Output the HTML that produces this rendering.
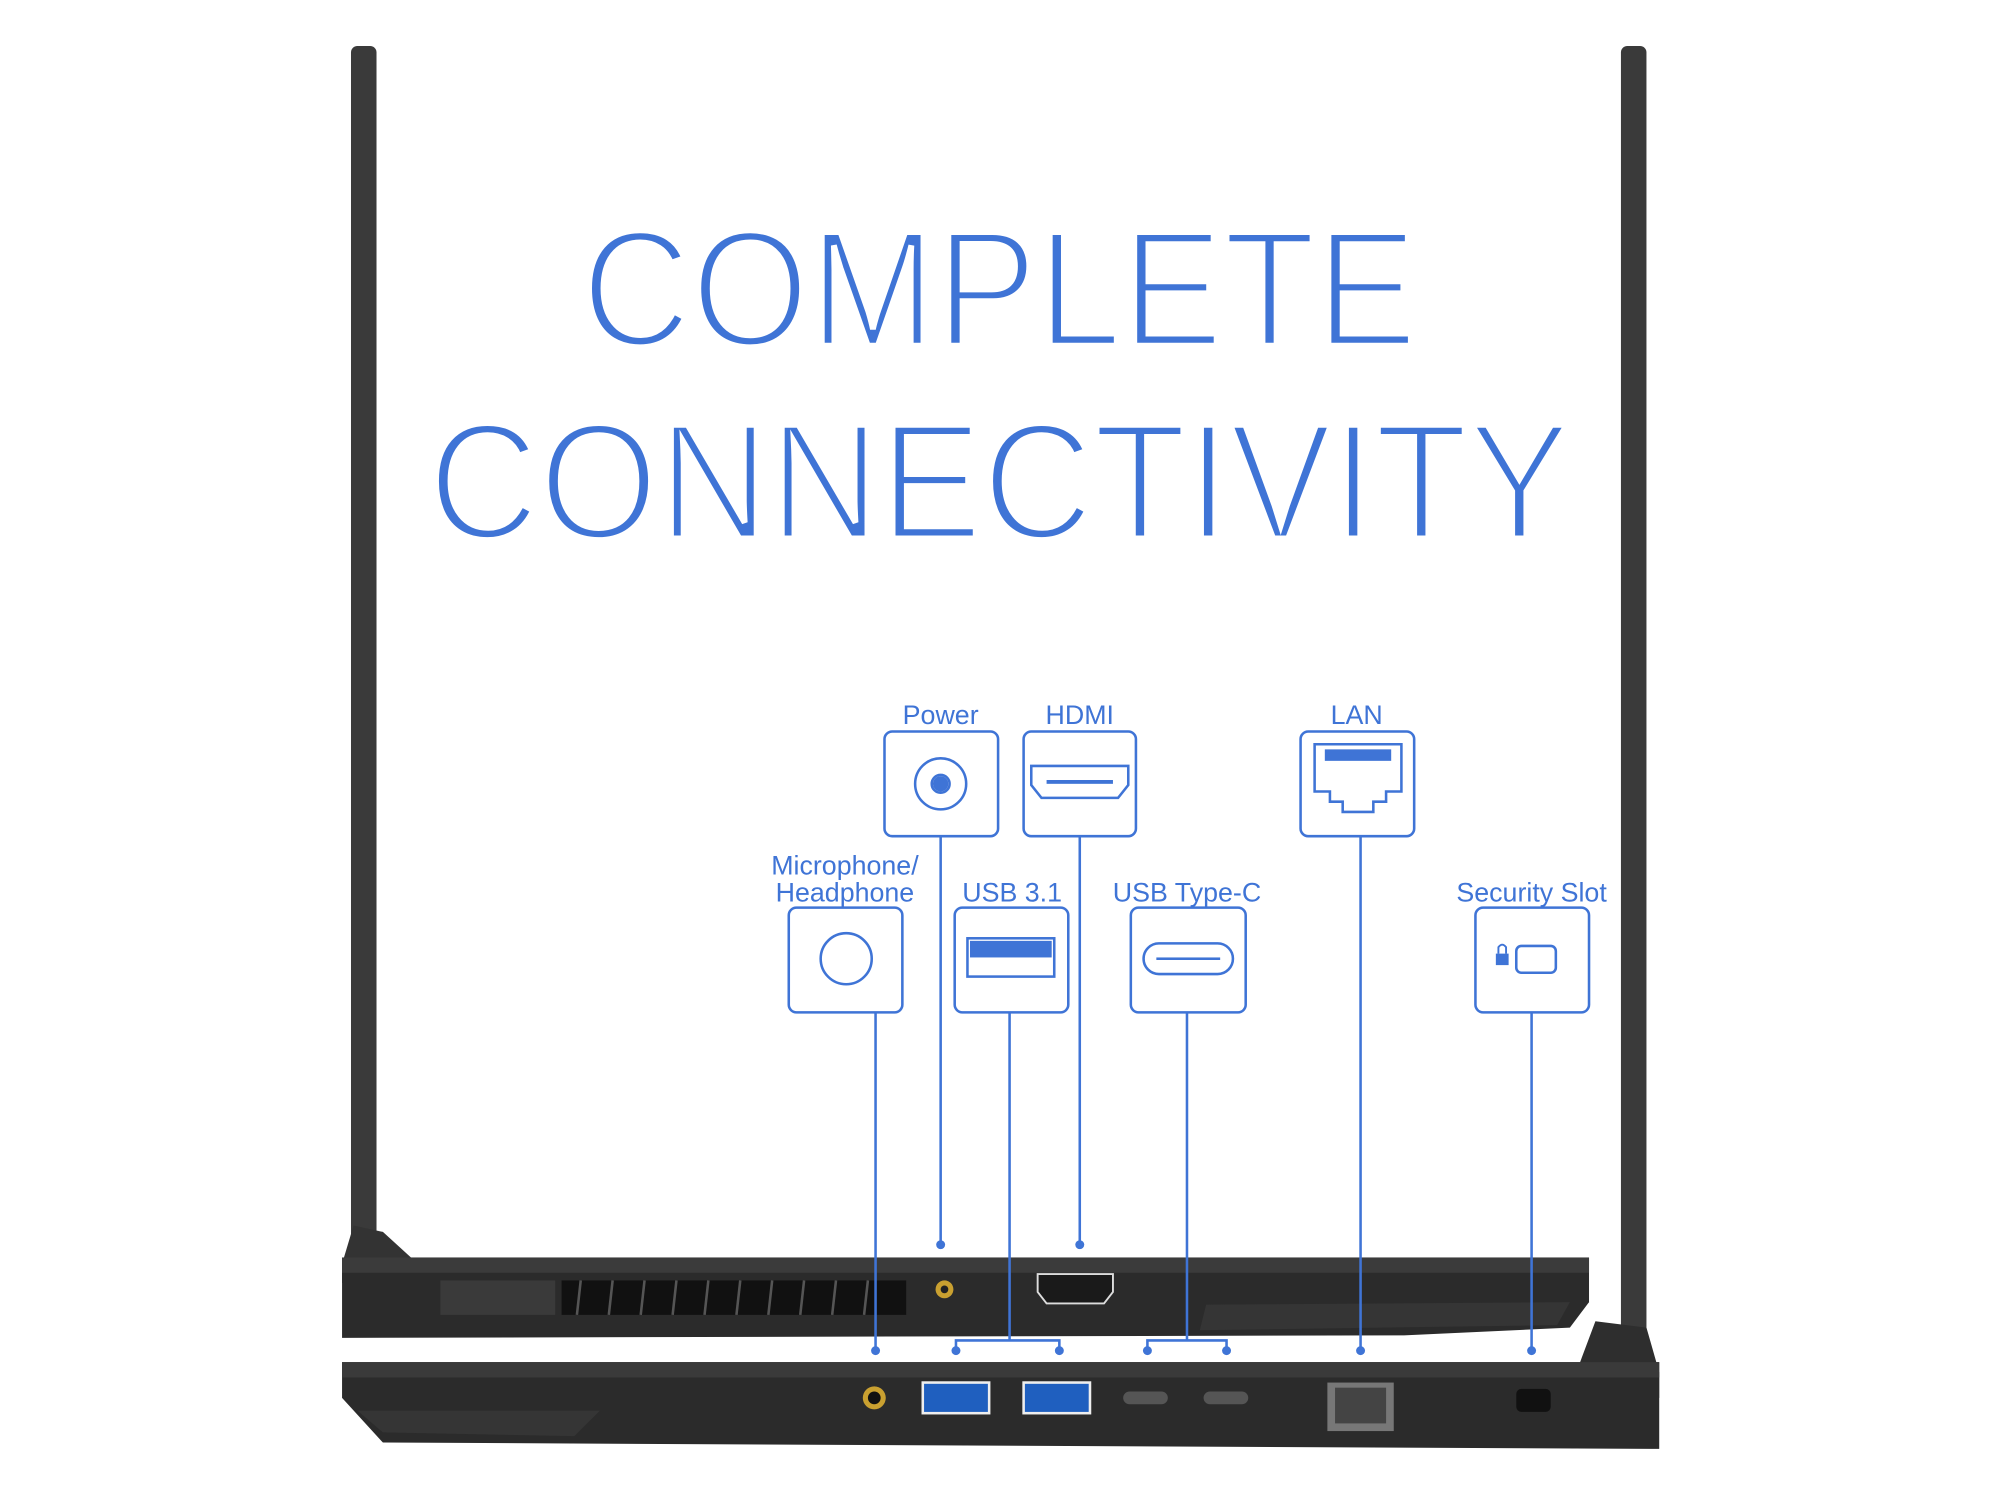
<!DOCTYPE html>
<html><head><meta charset="utf-8"><style>
html,body{margin:0;padding:0;background:#fff;width:2000px;height:1500px;overflow:hidden}
svg{display:block}
text{font-family:"Liberation Sans",sans-serif;fill:#3f74d6}
</style></head><body>
<svg width="2000" height="1500" viewBox="0 0 1567 1175" preserveAspectRatio="none" xmlns="http://www.w3.org/2000/svg">
<!-- screen bezels -->
<rect x="275" y="36" width="20" height="950" rx="5" fill="#3a3a3a"/>
<path d="M277 960 L300 965 L322 985 L322 1005 L290 1012 L268 1005 L268 990 Z" fill="#333"/>
<rect x="1270" y="36" width="20" height="1040" rx="5" fill="#3a3a3a"/>
<path d="M1250 1035 L1290 1040 L1300 1075 L1300 1095 L1245 1095 L1235 1075 Z" fill="#2e2e2e"/>

<!-- title -->
<g stroke="#fff" stroke-width="5">
<text x="783" y="271" font-size="130" text-anchor="middle" textLength="655" lengthAdjust="spacingAndGlyphs">COMPLETE</text>
<text x="783" y="422" font-size="130" text-anchor="middle" textLength="895" lengthAdjust="spacingAndGlyphs">CONNECTIVITY</text>
</g>

<!-- upper laptop side (back) -->
<path d="M268 985 L1245 985 L1245 1020 L1230 1040 L1100 1046 L268 1048 Z" fill="#2b2b2b"/>
<rect x="268" y="985" width="977" height="12" fill="#3b3b3b"/>
<rect x="440" y="1003" width="270" height="27" fill="#111"/>
<g stroke="#555" stroke-width="2">
<line x1="455" y1="1003" x2="452" y2="1030"/><line x1="480" y1="1003" x2="477" y2="1030"/><line x1="505" y1="1003" x2="502" y2="1030"/><line x1="530" y1="1003" x2="527" y2="1030"/><line x1="555" y1="1003" x2="552" y2="1030"/><line x1="580" y1="1003" x2="577" y2="1030"/><line x1="605" y1="1003" x2="602" y2="1030"/><line x1="630" y1="1003" x2="627" y2="1030"/><line x1="655" y1="1003" x2="652" y2="1030"/><line x1="680" y1="1003" x2="677" y2="1030"/>
</g>
<rect x="345" y="1003" width="90" height="27" fill="#3a3a3a"/>
<circle cx="740" cy="1010" r="7" fill="#c9a030"/><circle cx="740" cy="1010" r="3" fill="#222"/>
<path d="M813 998 L872 998 L872 1012 L865 1021 L820 1021 L813 1012 Z" fill="#1a1a1a" stroke="#ddd" stroke-width="1.5"/>
<path d="M945 1022 L1230 1020 L1220 1038 L940 1042 Z" fill="#353535"/>

<!-- lower laptop side (front) -->
<path d="M268 1067 L1300 1067 L1300 1135 L300 1130 L268 1095 Z" fill="#2b2b2b"/>
<rect x="268" y="1067" width="1032" height="12" fill="#3a3a3a"/>
<path d="M280 1105 L470 1105 L450 1125 L300 1122 Z" fill="#353535"/>
<circle cx="685" cy="1095" r="9" fill="#c9a030"/><circle cx="685" cy="1095" r="5" fill="#111"/>
<rect x="722" y="1082" width="54" height="26" fill="#eee"/><rect x="724" y="1084" width="50" height="22" fill="#1f5fbf"/>
<rect x="801" y="1082" width="54" height="26" fill="#eee"/><rect x="803" y="1084" width="50" height="22" fill="#1f5fbf"/>
<rect x="880" y="1090" width="35" height="10" rx="5" fill="#555"/>
<rect x="943" y="1090" width="35" height="10" rx="5" fill="#555"/>
<rect x="1040" y="1083" width="52" height="38" fill="#777"/><rect x="1046" y="1087" width="40" height="28" fill="#444"/>
<rect x="1188" y="1088" width="27" height="18" rx="4" fill="#111"/>

<!-- connector lines -->
<g stroke="#3f74d6" stroke-width="2" fill="none">
<line x1="737" y1="655" x2="737" y2="975"/>
<line x1="846" y1="655" x2="846" y2="975"/>
<line x1="1066" y1="655" x2="1066" y2="1058"/>
<line x1="686" y1="793" x2="686" y2="1058"/>
<line x1="791" y1="793" x2="791" y2="1050"/>
<polyline points="749,1058 749,1050 830,1050 830,1058"/>
<line x1="930" y1="793" x2="930" y2="1050"/>
<polyline points="899,1058 899,1050 961,1050 961,1058"/>
<line x1="1200" y1="793" x2="1200" y2="1058"/>
</g>
<g fill="#3f74d6">
<circle cx="737" cy="975" r="3.5"/><circle cx="846" cy="975" r="3.5"/>
<circle cx="686" cy="1058" r="3.5"/><circle cx="749" cy="1058" r="3.5"/><circle cx="830" cy="1058" r="3.5"/>
<circle cx="899" cy="1058" r="3.5"/><circle cx="961" cy="1058" r="3.5"/><circle cx="1066" cy="1058" r="3.5"/><circle cx="1200" cy="1058" r="3.5"/>
</g>

<!-- boxes -->
<g stroke="#3f74d6" stroke-width="2" fill="#fff">
<rect x="693" y="573" width="89" height="82" rx="6"/>
<rect x="802" y="573" width="88" height="82" rx="6"/>
<rect x="1019" y="573" width="89" height="82" rx="6"/>
<rect x="618" y="711" width="89" height="82" rx="6"/>
<rect x="748" y="711" width="89" height="82" rx="6"/>
<rect x="886" y="711" width="90" height="82" rx="6"/>
<rect x="1156" y="711" width="89" height="82" rx="6"/>
</g>
<g stroke="#3f74d6" stroke-width="2" fill="none">
<circle cx="737" cy="614" r="20"/><circle cx="737" cy="614" r="7"/>
<path d="M808 600 L884 600 L884 615 L876 625 L816 625 L808 615 Z"/>
<path d="M1030 583 L1098 583 L1098 620 L1086 620 L1086 628 L1076 628 L1076 636 L1052 636 L1052 628 L1042 628 L1042 620 L1030 620 Z"/>
<circle cx="663" cy="751" r="20"/>
<rect x="758" y="735" width="68" height="30"/>
<rect x="896" y="739" width="70" height="24" rx="12"/>
<rect x="1188" y="741" width="31" height="21" rx="4"/>
</g>
<g fill="#3f74d6">
<circle cx="737" cy="614" r="6"/>
<rect x="820" y="611" width="52" height="3"/>
<rect x="1038" y="587" width="52" height="9"/>
<rect x="760" y="737" width="64" height="13"/>
<rect x="906" y="750" width="50" height="2"/>
<rect x="1172" y="747" width="10" height="9"/>
</g>
<path d="M1174 747 L1174 742 Q1177 738 1180 742 L1180 747" stroke="#3f74d6" stroke-width="1.5" fill="none"/>

<!-- labels -->
<g font-size="21" text-anchor="middle">
<text x="737" y="567">Power</text>
<text x="846" y="567">HDMI</text>
<text x="1063" y="567">LAN</text>
<text x="662" y="685">Microphone/</text>
<text x="662" y="706">Headphone</text>
<text x="793" y="706">USB 3.1</text>
<text x="930" y="706">USB Type-C</text>
<text x="1200" y="706">Security Slot</text>
</g>
</svg>
</body></html>
